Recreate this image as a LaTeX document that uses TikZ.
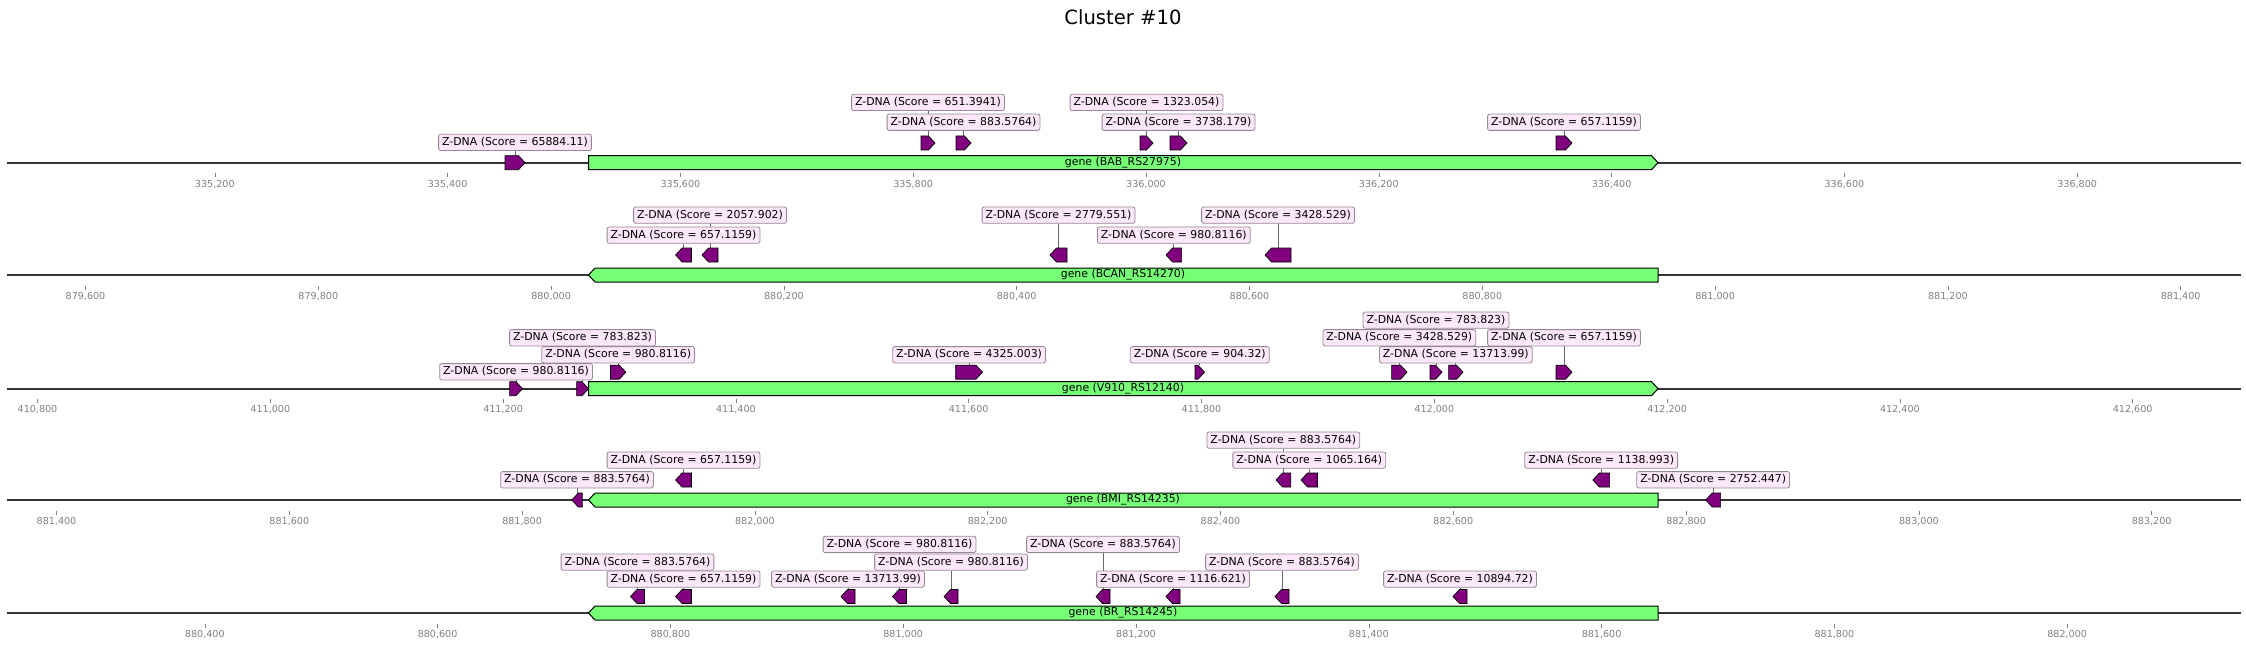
\documentclass[tikz,border=0pt]{standalone}
\usepackage{fontspec}
\setmainfont{DejaVu Sans}
\pgfdeclarelayer{bg}
\pgfsetlayers{bg,main}
\definecolor{genefill}{RGB}{118,255,118}
\definecolor{zpurple}{RGB}{128,0,128}
\definecolor{lblfill}{RGB}{253,232,250}
\definecolor{lbldraw}{RGB}{150,135,150}
\definecolor{axisline}{RGB}{51,51,51}
\definecolor{tickgray}{RGB}{128,128,128}
\tikzset{
  feat/.style={fill=zpurple, draw=black, line width=0.7pt, line join=miter},
  genebox/.style={fill=genefill, draw=black, line width=1pt},
  genelab/.style={font=\fontsize{10.9}{13}\selectfont, inner sep=0pt},
  lbl/.style={draw=lbldraw, fill=lblfill, rounded corners=2pt, line width=0.8pt,
    font=\fontsize{10.9}{13}\selectfont, inner xsep=3.5pt, inner ysep=0pt,
    text height=8.6pt, text depth=2.2pt, minimum height=16.3pt, anchor=south},
  conn/.style={draw=black!60, line width=0.7pt},
  axisl/.style={draw=axisline, line width=1.8pt},
  tickl/.style={draw=tickgray, line width=0.6pt},
  ticklab/.style={text=tickgray, font=\fontsize{9.6}{11}\selectfont, inner sep=0pt},
  titlelab/.style={font=\fontsize{19.6}{23}\selectfont, inner sep=0pt},
}
% right / left pointing feature: x0, x1, y-centre
\newcommand{\fR}[3]{\draw[feat] (#1,#3-7) -- ({max(#1,#2-6.5)},#3-7) -- (#2,#3) -- ({max(#1,#2-6.5)},#3+7) -- (#1,#3+7) -- cycle;}
\newcommand{\fL}[3]{\draw[feat] (#2,#3-7) -- ({min(#2,#1+6.5)},#3-7) -- (#1,#3) -- ({min(#2,#1+6.5)},#3+7) -- (#2,#3+7) -- cycle;}
% feature + label: name, x0, x1, y-centre, label bottom, score
\newcommand{\zR}[6]{\fR{#2}{#3}{#4}
  \coordinate (#1f) at ({(#2+#3)/2},#4-7);
  \node[lbl] (#1) at ({(#2+#3)/2},#5) {Z-DNA (Score = #6)};
  \begin{pgfonlayer}{bg}\draw[conn] (#1.south) -- (#1f);\end{pgfonlayer}}
\newcommand{\zL}[6]{\fL{#2}{#3}{#4}
  \coordinate (#1f) at ({(#2+#3)/2},#4-7);
  \node[lbl] (#1) at ({(#2+#3)/2},#5) {Z-DNA (Score = #6)};
  \begin{pgfonlayer}{bg}\draw[conn] (#1.south) -- (#1f);\end{pgfonlayer}}
% axis row: name, y
\newcommand{\axisrow}[2]{%
  \coordinate (#1s) at (7,#2); \coordinate (#1e) at (2241,#2);
  \draw[axisl] (#1s) -- (#1e);}
\newcommand{\geneR}[3]{\draw[genebox] (588.5,#1-7) -- (1651.5,#1-7) -- (1658,#1) -- (1651.5,#1+7) -- (588.5,#1+7) -- cycle;
  \node[genelab] (#2) at (1123,#1) {#3};}
\newcommand{\geneL}[3]{\draw[genebox] (588.5,#1) -- (595,#1-7) -- (1658,#1-7) -- (1658,#1+7) -- (595,#1+7) -- cycle;
  \node[genelab] (#2) at (1123,#1) {#3};}
\begin{document}
\begin{tikzpicture}[x=1pt,y=-1pt]
\useasboundingbox (0,0) rectangle (2246,647);
\node[titlelab] (title) at (1123,17) {Cluster \#10};

% ---------- row 1 ----------
\axisrow{r1}{162.7}
\foreach \k/\t in {0/335{,}200,1/335{,}400,2/335{,}600,3/335{,}800,4/336{,}000,5/336{,}200,6/336{,}400,7/336{,}600,8/336{,}800}{
  \draw[tickl] (214.8+232.8*\k,173.3) -- (214.8+232.8*\k,177.3);
  \node[ticklab] (ta\k) at (214.8+232.8*\k,184) {\t};}
\geneR{162.7}{g1}{gene (BAB\_RS27975)}
\zR{a1}{505}{525}{162.7}{151}{65884.11}
\zR{a2}{921}{935}{143}{111}{651.3941}
\zR{a3}{956}{971}{143}{130.8}{883.5764}
\zR{a4}{1140}{1153}{143}{111}{1323.054}
\zR{a5}{1170}{1187}{143}{130.8}{3738.179}
\zR{a6}{1556}{1572}{143}{130.8}{657.1159}

% ---------- row 2 ----------
\axisrow{r2}{275}
\foreach \k/\t in {0/879{,}600,1/879{,}800,2/880{,}000,3/880{,}200,4/880{,}400,5/880{,}600,6/880{,}800,7/881{,}000,8/881{,}200,9/881{,}400}{
  \draw[tickl] (85.5+232.8*\k,285.6) -- (85.5+232.8*\k,289.6);
  \node[ticklab] (tb\k) at (85.5+232.8*\k,296) {\t};}
\geneL{275}{g2}{gene (BCAN\_RS14270)}
\zL{b1}{675.6}{691.4}{255}{243.7}{657.1159}
\zL{b2}{702}{718}{255}{223.7}{2057.902}
\zL{b3}{1050}{1067}{255}{223.7}{2779.551}
\zL{b4}{1166}{1181.6}{255}{243.7}{980.8116}
\zL{b5}{1265}{1291}{255}{223.7}{3428.529}

% ---------- row 3 ----------
\axisrow{r3}{388.7}
\foreach \k/\t in {0/410{,}800,1/411{,}000,2/411{,}200,3/411{,}400,4/411{,}600,5/411{,}800,6/412{,}000,7/412{,}200,8/412{,}400,9/412{,}600}{
  \draw[tickl] (37.5+232.8*\k,399.3) -- (37.5+232.8*\k,403.3);
  \node[ticklab] (tc\k) at (37.5+232.8*\k,409.7) {\t};}
\geneR{388.7}{g3}{gene (V910\_RS12140)}
\zR{c1}{509.6}{522.5}{388.7}{380.3}{980.8116}
\zR{c2}{576.6}{588.5}{388.7}{346.3}{783.823}
\zR{c3}{610.5}{625.8}{372.2}{363.3}{980.8116}
\zR{c4}{955.7}{982.5}{372.2}{363.3}{4325.003}
\zR{c5}{1195}{1204.5}{372.2}{363.3}{904.32}
\zR{c6}{1391.6}{1407}{372.2}{346.3}{3428.529}
\zR{c7}{1430}{1442}{372.2}{328.7}{783.823}
\zR{c8}{1448.6}{1463}{372.2}{363.3}{13713.99}
\zR{c9}{1556}{1572}{372.2}{346.3}{657.1159}

% ---------- row 4 ----------
\axisrow{r4}{500}
\foreach \k/\t in {0/881{,}400,1/881{,}600,2/881{,}800,3/882{,}000,4/882{,}200,5/882{,}400,6/882{,}600,7/882{,}800,8/883{,}000,9/883{,}200}{
  \draw[tickl] (56.5+232.8*\k,510.6) -- (56.5+232.8*\k,514.6);
  \node[ticklab] (td\k) at (56.5+232.8*\k,521) {\t};}
\geneL{500}{g4}{gene (BMI\_RS14235)}
\zL{d1}{571.8}{582.3}{500}{488.3}{883.5764}
\zL{d2}{675.6}{691.4}{480}{468.7}{657.1159}
\zL{d3}{1276}{1290.7}{480}{448.7}{883.5764}
\zL{d4}{1301}{1317.5}{480}{468.7}{1065.164}
\zL{d5}{1592.8}{1609.6}{480}{468.7}{1138.993}
\zL{d6}{1705.7}{1720.6}{500}{488.3}{2752.447}

% ---------- row 5 ----------
\axisrow{r5}{613}
\foreach \k/\t in {0/880{,}400,1/880{,}600,2/880{,}800,3/881{,}000,4/881{,}200,5/881{,}400,6/881{,}600,7/881{,}800,8/882{,}000}{
  \draw[tickl] (204.8+232.8*\k,623.6) -- (204.8+232.8*\k,627.6);
  \node[ticklab] (te\k) at (204.8+232.8*\k,634) {\t};}
\geneL{613}{g5}{gene (BR\_RS14245)}
\zL{e1}{630.5}{644.5}{596.5}{570.6}{883.5764}
\zL{e2}{675.6}{691.4}{596.5}{587.6}{657.1159}
\zL{e3}{841}{855}{596.5}{587.6}{13713.99}
\zL{e4}{892.5}{906.5}{596.5}{553}{980.8116}
\zL{e5}{944}{958}{596.5}{570.6}{980.8116}
\zL{e6}{1096}{1110}{596.5}{553}{883.5764}
\zL{e7}{1166}{1180}{596.5}{587.6}{1116.621}
\zL{e8}{1275}{1289}{596.5}{570.6}{883.5764}
\zL{e9}{1453}{1467}{596.5}{587.6}{10894.72}
\end{tikzpicture}
\end{document}
